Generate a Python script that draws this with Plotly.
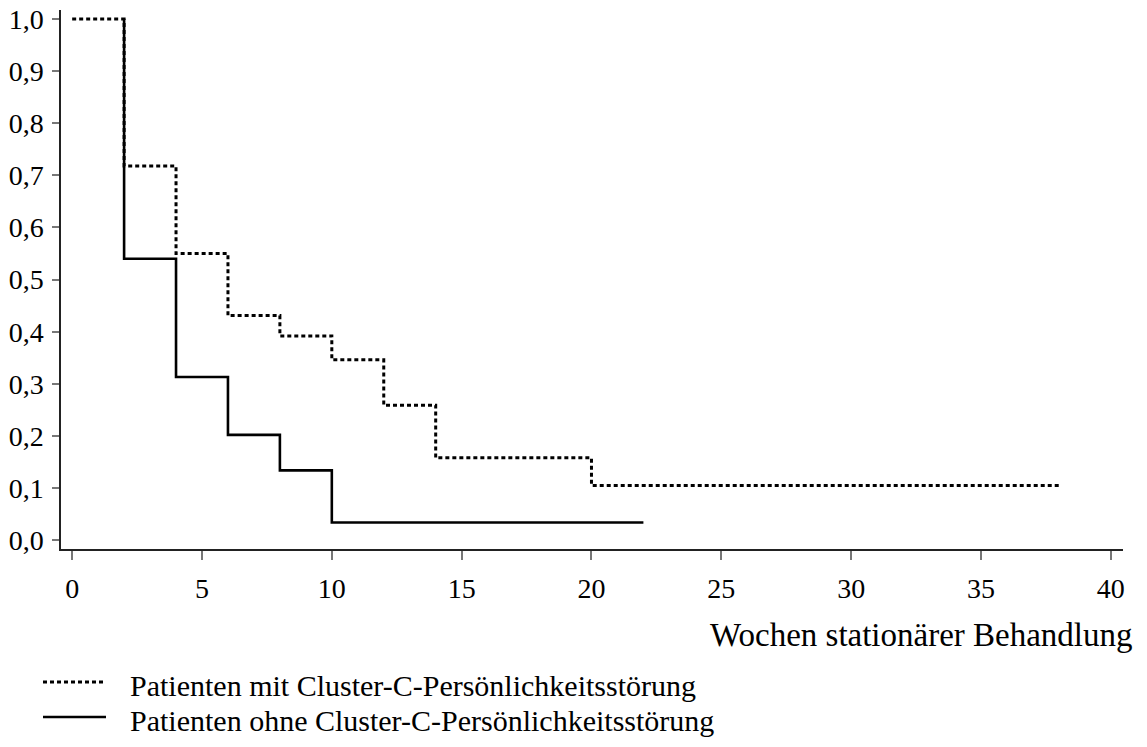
import plotly.graph_objects as go

# ---- data ----
series_names = [
    "Patienten mit Cluster-C-Persönlichkeitsstörung",
    "Patienten ohne Cluster-C-Persönlichkeitsstörung",
]
mit_weeks = [0, 2, 4, 6, 8, 10, 12, 14, 20, 38]
mit_surv = [1.0, 0.718, 0.550, 0.431, 0.392, 0.346, 0.259, 0.158, 0.105, 0.105]
ohne_weeks = [2, 2, 4, 6, 8, 10, 22]
ohne_surv = [1.0, 0.540, 0.313, 0.202, 0.134, 0.034, 0.034]
x_ticks = [0, 5, 10, 15, 20, 25, 30, 35, 40]
y_ticks = [0.0, 0.1, 0.2, 0.3, 0.4, 0.5, 0.6, 0.7, 0.8, 0.9, 1.0]
x_title = "Wochen stationärer Behandlung"

FONT = "Liberation Serif"
W, H = 1147, 747
L, R, T, B = 61, 24, 10, 198
pw, ph = W - L - R, H - T - B


def px_x(p):
    return (p - L) / pw


def px_y(p):
    return (H - B - p) / ph


fig = go.Figure()
fig.add_trace(go.Scatter(
    x=mit_weeks, y=mit_surv, mode="lines", line_shape="hv",
    line=dict(color="black", width=3, dash="4px,3px"),
    name=series_names[0], showlegend=False,
))
fig.add_trace(go.Scatter(
    x=ohne_weeks, y=ohne_surv, mode="lines", line_shape="hv",
    line=dict(color="black", width=2.6),
    name=series_names[1], showlegend=False,
))

fig.update_layout(
    width=W, height=H,
    margin=dict(l=L, r=R, t=T, b=B),
    paper_bgcolor="white", plot_bgcolor="white",
    separators=",.",
    font=dict(family=FONT, color="black", size=28),
    xaxis=dict(
        range=[-0.43, 40.47], tickvals=x_ticks, showgrid=False, zeroline=False,
        showline=True, linecolor="#222", linewidth=1.5, automargin=False,
        ticks="outside", ticklen=9, tickwidth=2, tickcolor="#777",
        tickfont=dict(family=FONT, size=28, color="black"),
        ticklabelstandoff=5,
    ),
    yaxis=dict(
        range=[-0.0169, 1.0173], tickvals=y_ticks, tickformat=".1f",
        showgrid=False, zeroline=False, automargin=False,
        showline=True, linecolor="#222", linewidth=1.5,
        ticks="outside", ticklen=7, tickwidth=2, tickcolor="#777",
        tickfont=dict(family=FONT, size=28, color="black"),
        ticklabelstandoff=3,
    ),
)

# axis title (right aligned under the axis)
fig.add_annotation(
    text=x_title, xref="paper", yref="paper",
    x=px_x(1135), y=px_y(635), xanchor="right", yanchor="middle",
    showarrow=False, font=dict(family=FONT, size=33, color="black"),
)

# legend drawn below the chart
legend_rows = [682, 717]
legend_dash = ["4px,3px", "solid"]
for name, row, dash in zip(series_names, legend_rows, legend_dash):
    fig.add_shape(
        type="line", xref="paper", yref="paper",
        x0=px_x(43), x1=px_x(106), y0=px_y(row), y1=px_y(row),
        line=dict(color="black", width=2.6 if dash == "solid" else 3, dash=dash),
    )
    fig.add_annotation(
        text=name, xref="paper", yref="paper",
        x=px_x(128), y=px_y(row + 3), xanchor="left", yanchor="middle",
        showarrow=False, font=dict(family=FONT, size=30, color="black"),
    )

fig.write_html(
    "out.html",
    config={"displayModeBar": False},
    post_script="document.body.style.margin='0';document.body.style.overflow='hidden';",
)
